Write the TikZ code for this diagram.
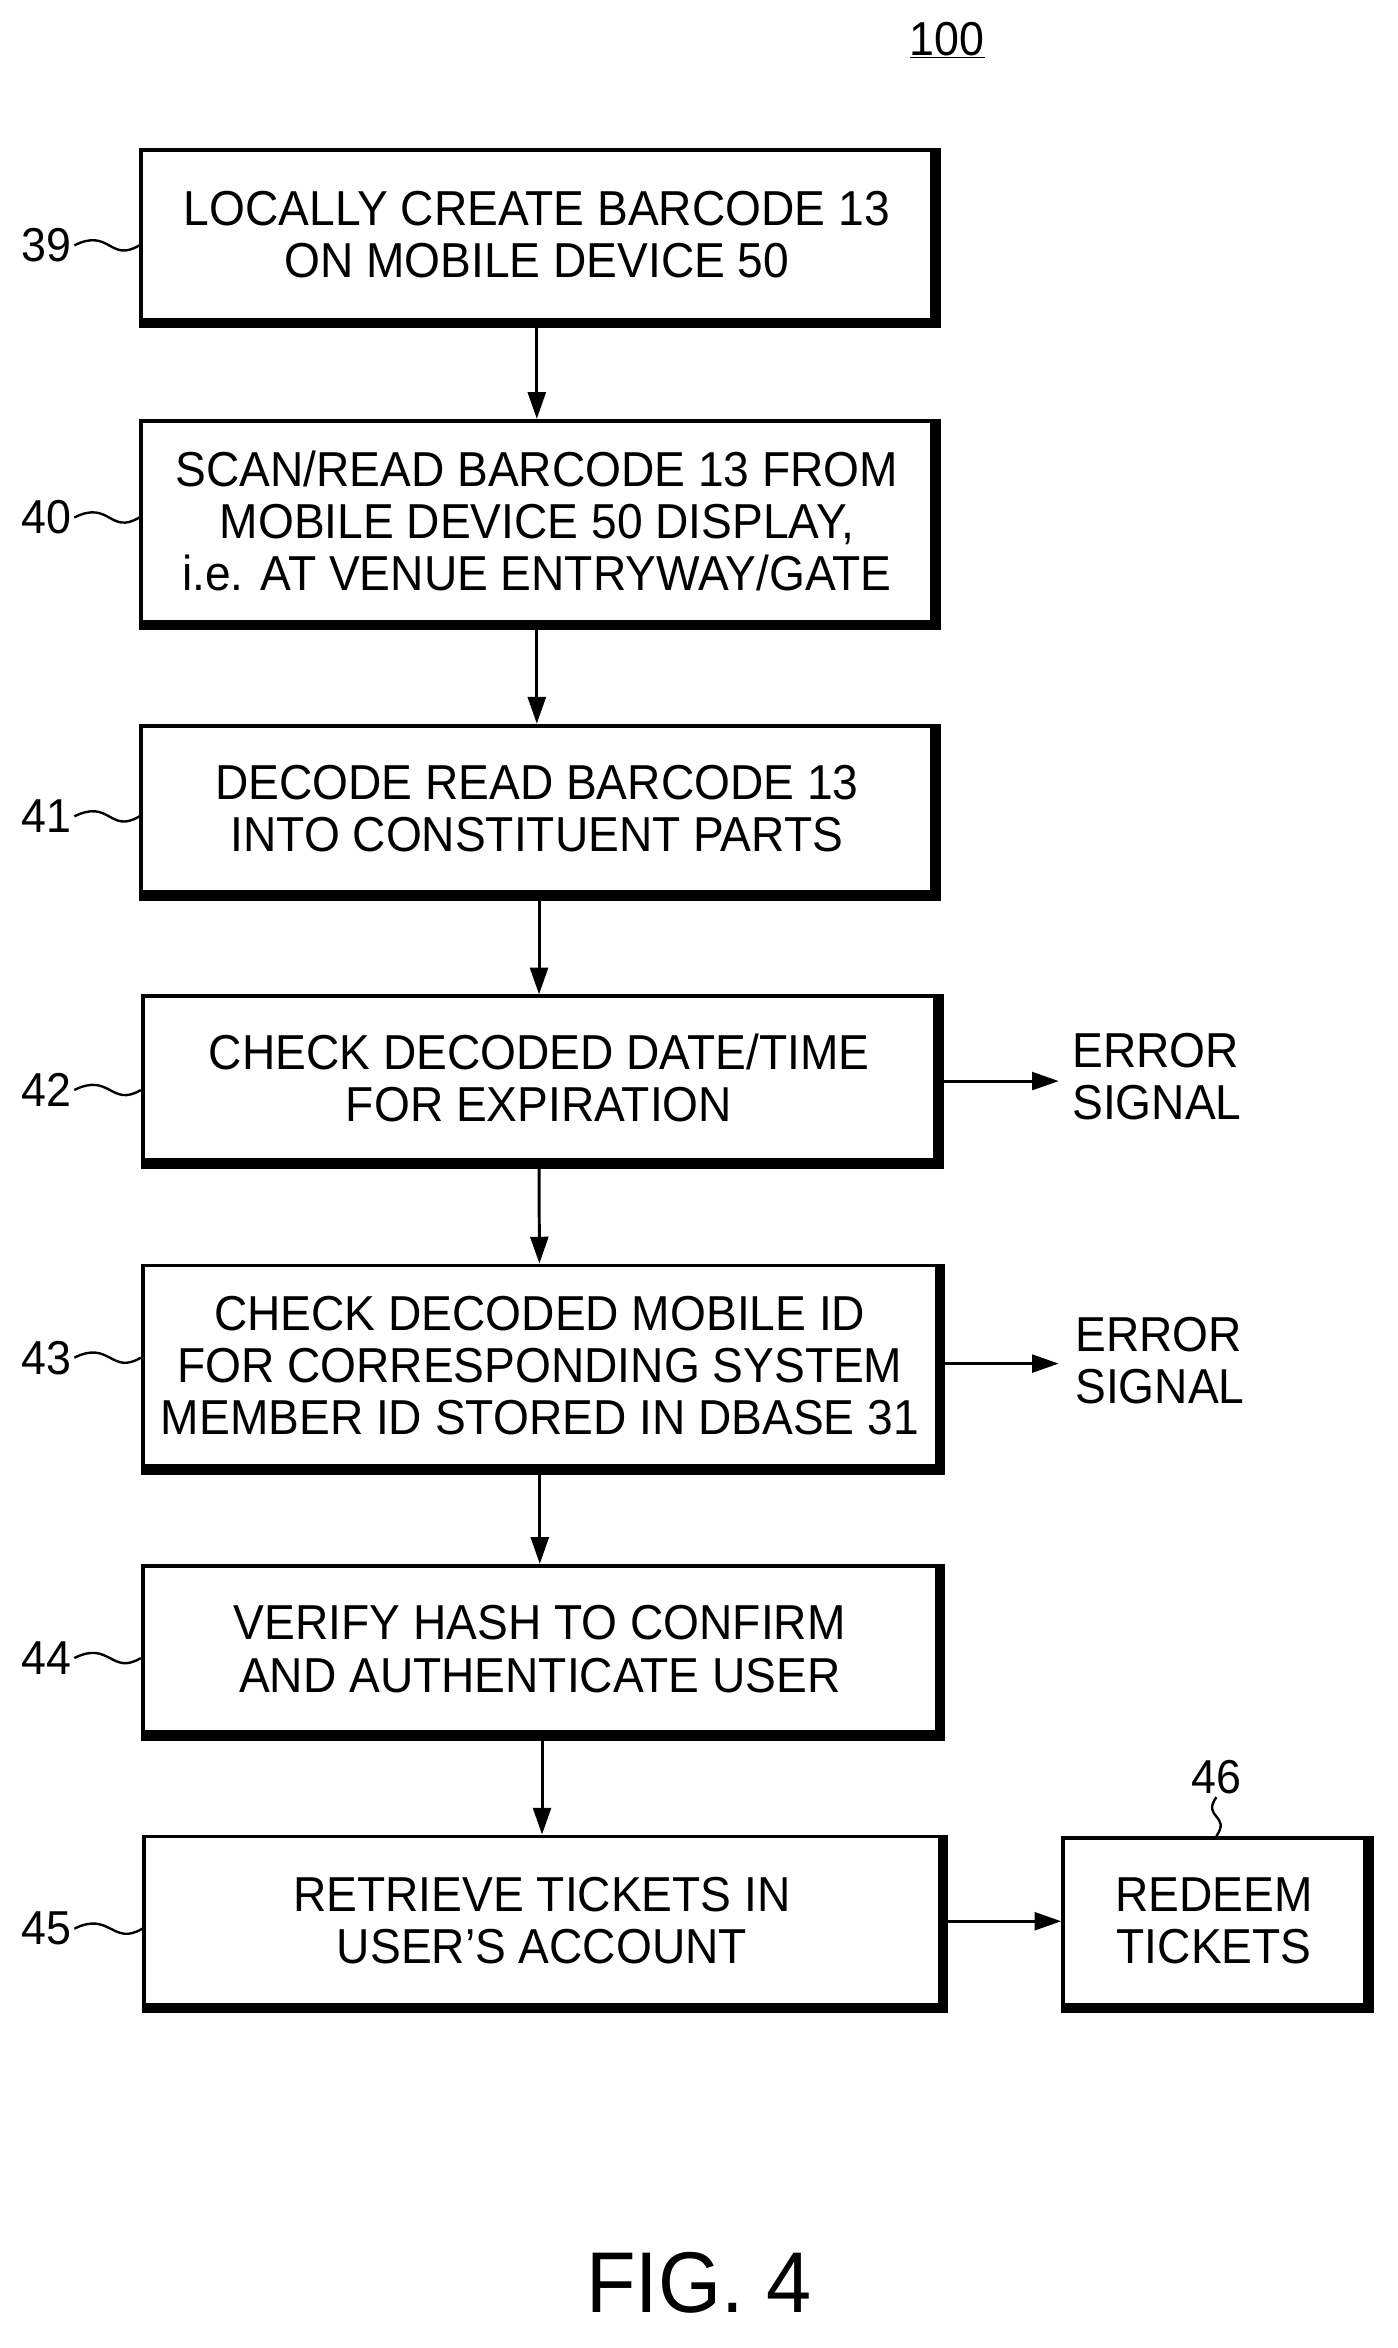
\documentclass[tikz,border=0pt]{standalone}
\usepackage{fontspec}
\setmainfont[FakeStretch=0.94]{Liberation Sans}
\usetikzlibrary{arrows.meta}
\begin{document}
\begin{tikzpicture}[x=1pt,y=-1pt,
  box/.style={draw,line width=2.6pt,align=center,font=\fontsize{33}{35}\selectfont,inner sep=0pt},
  lbl/.style={font=\fontsize{32}{34}\selectfont,inner sep=2pt},
  arr/.style={line width=2pt,-{Triangle[length=18pt,width=12pt]}},
  sq/.style={line width=1.6pt}]
\useasboundingbox (0,0) rectangle (940,1579);
\node[box,minimum width=532,minimum height=114] (b39) at (361,158) {LOCALLY CREATE BARCODE 13\\ON MOBILE DEVICE 50};
\node[box,minimum width=532,minimum height=135] (b40) at (361,350.5) {SCAN/READ BARCODE 13 FROM\\MOBILE DEVICE 50 DISPLAY,\\i.e. AT VENUE ENTRYWAY/GATE};
\node[box,minimum width=532,minimum height=112] (b41) at (361,544) {DECODE READ BARCODE 13\\INTO CONSTITUENT PARTS};
\node[box,minimum width=533,minimum height=110] (b42) at (362.5,725) {CHECK DECODED DATE/TIME\\FOR EXPIRATION};
\node[box,minimum width=534,minimum height=135] (b43) at (363,918.5) {CHECK DECODED MOBILE ID\\FOR CORRESPONDING SYSTEM\\MEMBER ID STORED IN DBASE 31};
\node[box,minimum width=534,minimum height=112] (b44) at (363,1109) {VERIFY HASH TO CONFIRM\\AND AUTHENTICATE USER};
\node[box,minimum width=535,minimum height=113] (b45) at (364.5,1291.5) {RETRIEVE TICKETS IN\\USER'S ACCOUNT};
\node[box,minimum width=203,minimum height=112] (b46) at (816.5,1292) {REDEEM\\TICKETS};
\foreach \n in {b39,b40,b41,b42,b43,b44,b45,b46}{
  \draw[line width=5pt] ([yshift=-2pt]\n.south west) -- ([yshift=-2pt,xshift=2pt]\n.south east) -- ([xshift=2pt]\n.north east);
}
\node[box,draw=none,align=left] (e42) at (778,724) {ERROR\\SIGNAL};
\node[box,draw=none,align=left] (e43) at (780,915) {ERROR\\SIGNAL};
\coordinate (t42) at (712,727);
\coordinate (t43) at (712,917);
\draw[arr] ([yshift=-4pt]b39.south) -- (b40);
\draw[arr] ([yshift=-4pt]b40.south) -- (b41);
\draw[arr] ([yshift=-4pt]b41.south -| b42.north) -- (b42);
\draw[arr] ([yshift=-4pt]b42.south) -- (b43);
\draw[arr] ([yshift=-4pt]b43.south) -- (b44);
\draw[arr] ([yshift=-4pt]b44.south -| b45.north) -- (b45);
\draw[arr] ([xshift=3pt]b42.east |- t42) -- (t42);
\draw[arr] ([xshift=3pt]b43.east |- t43) -- (t43);
\draw[arr] ([xshift=3pt]b45.east |- b46.west) -- (b46.west);
% labels
\foreach \n/\y/\t in {b39/165/39,b40/348/40,b41/549/41,b42/733/42,b43/913/43,b44/1115/44,b45/1297/45}{
  \node[lbl,anchor=east] (l\t) at (50,\y) {\t};
  \draw[sq] (l\t.east) .. controls +(24,-12) and +(-20,12) .. (\n.west |- l\t.east);
}
\node[lbl] (l46) at (818,1195) {46};
\draw[sq] (l46.south) .. controls +(-10,14) and +(10,-14) .. (b46.north -| l46.south);
\node[font=\fontsize{32}{34}\selectfont] (n100) at (637,27) {\underline{100}};
\node[font=\fontsize{58}{60}\selectfont] (fig) at (470,1535) {FIG. 4};
\end{tikzpicture}
\end{document}
